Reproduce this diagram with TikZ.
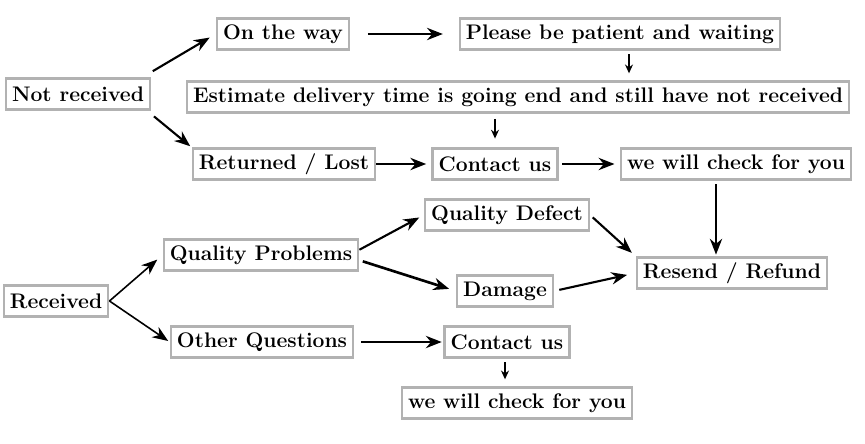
\documentclass[tikz,border=0pt]{standalone}
\usepackage{amsmath,amssymb,xcolor}
\usepackage{tikz}
\usetikzlibrary{arrows.meta}

\begin{document}
\begin{tikzpicture}[
  box/.style={draw=black!30, line width=1.3pt, fill=white, font=\large\bfseries,
    inner xsep=3.5pt, inner ysep=2.5pt, minimum height=0.62cm},
  arr/.style={-{Stealth[length=9pt,width=7pt]}, line width=1.2pt},
  thinarr/.style={-{Stealth[length=5pt,width=4.5pt]}, line width=.8pt}]
\useasboundingbox (0,0) rectangle (17.30,-8.86);
%% --- not received branch ---
\node[box] (nrec) at (1.56,-1.88) {Not received};
\node[box] (way) at (5.66,-0.68) {On the way};
\node[box] (wait) at (12.40,-0.68) {Please be patient and waiting};
\node[box] (est) at (10.36,-1.94) {Estimate delivery time is going end and still have not received};
\node[box] (lost) at (5.68,-3.28) {Returned / Lost};
\node[box] (cont1) at (9.90,-3.28) {Contact us};
\node[box] (chk1) at (14.72,-3.28) {we will check for you};
%% --- received branch ---
\node[box] (defect) at (10.14,-4.30) {Quality Defect};
\node[box] (qprob) at (5.22,-5.10) {Quality Problems};
\node[box] (refund) at (14.64,-5.46) {Resend / Refund};
\node[box] (damage) at (10.10,-5.82) {Damage};
\node[box] (rec) at (1.12,-6.02) {Received};
\node[box] (other) at (5.24,-6.84) {Other Questions};
\node[box] (cont2) at (10.14,-6.84) {Contact us};
\node[box] (chk2) at (10.34,-8.06) {we will check for you};
%% --- arrows, top ---
\draw[arr, shorten <=1pt, shorten >=4pt] ([yshift=3pt]nrec.north east) -- (way.west);
\draw[arr, shorten <=10pt, shorten >=9pt] (way) -- (wait);
\draw[thinarr, shorten <=2pt, shorten >=4pt] ([xshift=0.18cm]wait.south) -- ([xshift=0.18cm]wait.south |- est.north);
\draw[thinarr, shorten <=3pt, shorten >=5pt] (cont1.north |- est.south) -- (cont1.north);
\draw[arr, shorten <=2pt, shorten >=1pt] ([yshift=-2pt]nrec.south east) -- (lost.north west);
\draw[arr, shorten >=3pt] (lost) -- (cont1);
\draw[arr, shorten <=2pt, shorten >=3pt] (cont1) -- (chk1);
\draw[arr, shorten <=2pt, shorten >=1pt] ([xshift=-0.4cm]chk1.south) -- ([xshift=-0.4cm]chk1.south |- refund.north);
%% --- arrows, bottom ---
\draw[arr, shorten <=2pt, shorten >=3pt] (defect.east) -- (refund.north west);
\draw[arr, shorten <=3pt, shorten >=5pt] (damage.east) -- (refund.west);
\draw[arr, shorten >=3pt] ([yshift=3pt]qprob.east) -- (defect.west);
\draw[arr, line width=1.5pt, shorten <=2pt, shorten >=4pt] ([yshift=-3pt]qprob.east) -- (damage.west);
\draw[arr, line width=.9pt, shorten >=4pt] (rec.east) -- (qprob.west);
\draw[arr, line width=.9pt, shorten >=1pt] (rec.east) -- (other.west);
\draw[arr, shorten <=4pt, shorten >=1pt] (other) -- (cont2);
\draw[thinarr, shorten <=2pt, shorten >=4pt] ([xshift=-0.04cm]cont2.south) -- ([xshift=-0.04cm]cont2.south |- chk2.north);
\end{tikzpicture}
\end{document}
